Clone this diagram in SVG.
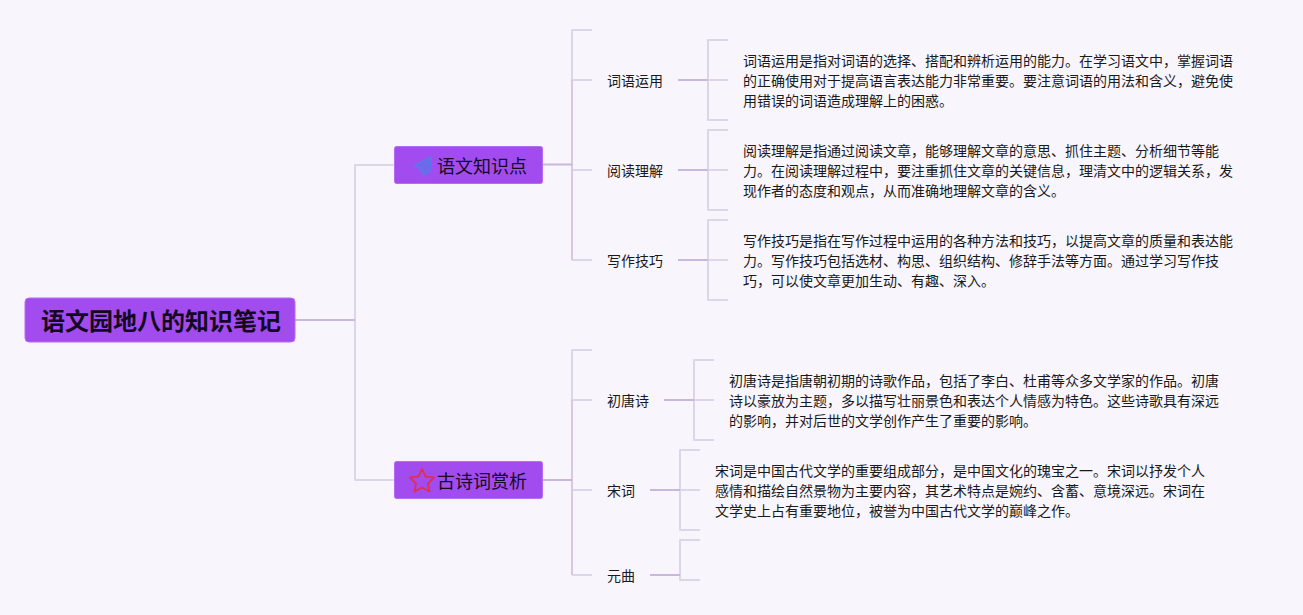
<svg xmlns="http://www.w3.org/2000/svg" width="1303" height="615" viewBox="0 0 1303 615">
<style>
text{font-family:"Noto Sans CJK SC","Noto Sans",sans-serif;fill:#1a1a1a}
.body{font-size:14px}
.leaf{font-size:14px}
.main{font-size:18px;fill:#14091f}
.root{font-size:24px;font-weight:700;fill:#14091f}
.box{fill:#a24cf0;stroke:#b56cf2;stroke-width:1}
.l{fill:none;stroke:#dcd6ea;stroke-width:2;stroke-linejoin:round}
.m{fill:none;stroke:#d6c8e4;stroke-width:2}
.d{fill:none;stroke:#c9b8de;stroke-width:2}
</style>
<rect width="1303" height="615" fill="#f8f5fd"/>
<g id="connectors">
<path class="l" d="M394 165H355V480H394M592 30H572V80M592 80H572M592 170H572M592 260H572M592 350H572V400M592 400H572M592 490H572M592 575H572"/>
<path class="m" d="M572 80V260M572 400V575"/>
<path class="d" d="M295 320H355M542 164.500H572M542 480H572"/>
<path class="l" d="M728 40H708V120H728M708 80H728M728 130H708V210H728M708 170H728M728 220H708V300H728M708 260H728M714 360H694V440H714M694 400H714M700 450H680V530H700M680 490H700M700 540H680V580H700"/>
<path class="d" d="M678 80H708M678 170H708M678 260H708M664 400H694M650 490H680M650 575H680"/>
</g>
<g id="root"><rect class="box" x="25" y="298" width="270" height="44" rx="4"/><text class="root" x="41" y="330">语文园地八的知识笔记</text></g>
<g id="n-yuwen"><rect class="box" x="394.500" y="146.500" width="148" height="37" rx="2"/>
<path d="M431.500 157L414.500 165.500L420.500 169L424 175.500L427 171.500L429.500 172.500Z" fill="#7a62ee" stroke="#5a78ea" stroke-width="1.600" stroke-linejoin="round"/>
<path d="M420.500 169L431.500 157L424 175.500" fill="none" stroke="#5a78ea" stroke-width="1.200" stroke-linejoin="round"/>
<text class="main" x="437" y="173">语文知识点</text></g>
<g id="n-gushi"><rect class="box" x="394.500" y="461.500" width="148" height="37" rx="2"/>
<path d="M422 469L425.500 476.500L434 477.500L428 483.500L429.500 491.500L422 487.500L414.500 491.500L416 483.500L410 477.500L418.500 476.500Z" fill="none" stroke="#e0304f" stroke-width="1.800" stroke-linejoin="round"/>
<text class="main" x="437" y="488">古诗词赏析</text></g>
<g id="n-ciyu"><text class="leaf" x="607" y="86">词语运用</text></g>
<g id="n-yuedu"><text class="leaf" x="607" y="176">阅读理解</text></g>
<g id="n-xiezuo"><text class="leaf" x="607" y="266">写作技巧</text></g>
<g id="n-chutang"><text class="leaf" x="607" y="406">初唐诗</text></g>
<g id="n-song"><text class="leaf" x="607" y="496">宋词</text></g>
<g id="n-yuan"><text class="leaf" x="607" y="581">元曲</text></g>
<g id="d-ciyu"><text class="body" x="743" y="66">词语运用是指对词语的选择、搭配和辨析运用的能力。在学习语文中，掌握词语</text><text class="body" x="743" y="86">的正确使用对于提高语言表达能力非常重要。要注意词语的用法和含义，避免使</text><text class="body" x="743" y="106">用错误的词语造成理解上的困惑。</text></g>
<g id="d-yuedu"><text class="body" x="743" y="156">阅读理解是指通过阅读文章，能够理解文章的意思、抓住主题、分析细节等能</text><text class="body" x="743" y="176">力。在阅读理解过程中，要注重抓住文章的关键信息，理清文中的逻辑关系，发</text><text class="body" x="743" y="196">现作者的态度和观点，从而准确地理解文章的含义。</text></g>
<g id="d-xiezuo"><text class="body" x="743" y="246">写作技巧是指在写作过程中运用的各种方法和技巧，以提高文章的质量和表达能</text><text class="body" x="743" y="266">力。写作技巧包括选材、构思、组织结构、修辞手法等方面。通过学习写作技</text><text class="body" x="743" y="286">巧，可以使文章更加生动、有趣、深入。</text></g>
<g id="d-chutang"><text class="body" x="729" y="386">初唐诗是指唐朝初期的诗歌作品，包括了李白、杜甫等众多文学家的作品。初唐</text><text class="body" x="729" y="406">诗以豪放为主题，多以描写壮丽景色和表达个人情感为特色。这些诗歌具有深远</text><text class="body" x="729" y="426">的影响，并对后世的文学创作产生了重要的影响。</text></g>
<g id="d-song"><text class="body" x="715" y="476">宋词是中国古代文学的重要组成部分，是中国文化的瑰宝之一。宋词以抒发个人</text><text class="body" x="715" y="496">感情和描绘自然景物为主要内容，其艺术特点是婉约、含蓄、意境深远。宋词在</text><text class="body" x="715" y="516">文学史上占有重要地位，被誉为中国古代文学的巅峰之作。</text></g>
</svg>
